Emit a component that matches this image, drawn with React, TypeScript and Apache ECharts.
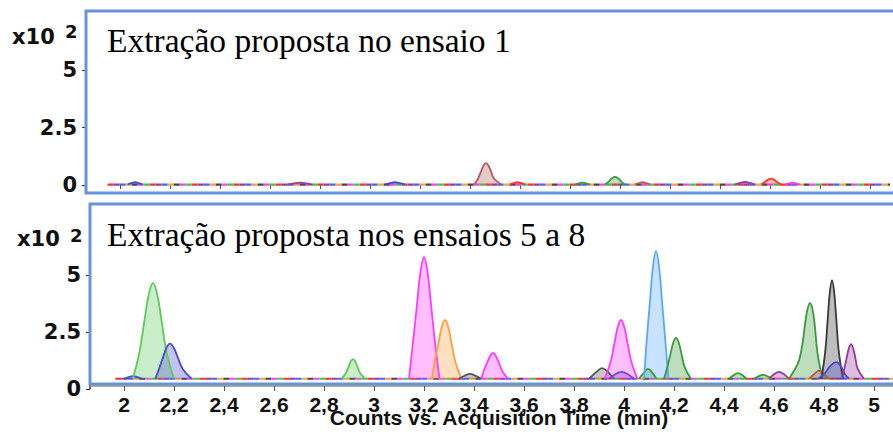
import React, { useEffect, useRef } from 'react';
import * as echarts from 'echarts';

// ---------- data ----------
const xTicks = [2, 2.2, 2.4, 2.6, 2.8, 3, 3.2, 3.4, 3.6, 3.8, 4, 4.2, 4.4, 4.6, 4.8, 5];
const yTicks = [0, 2.5, 5];
const panelTitles = ['Extração proposta no ensaio 1', 'Extração proposta nos ensaios 5 a 8'];
const xAxisTitle = 'Counts vs. Acquisition Time (min)';
const yUnit = 'x10';
const yExp = '2';
const xRange = [1.864, 5.08];
const yMaxTop = 5.74;
const yMaxBottom = 6.32;
const baseTop = 0.02;
const baseBottom = 0.45;
const baselineTopSpan = [[1.95, baseTop], [5.08, baseTop]];
const baselineBottomSpan = [[1.965, baseBottom], [5.08, baseBottom]];

// top panel (ensaio 1) peaks: [time (min), counts x10^2]
const t_brown346 = [[3.416, 0.02], [3.432, 0.28], [3.444, 0.59], [3.454, 0.84], [3.464, 0.95], [3.474, 0.84], [3.484, 0.59], [3.496, 0.28], [3.525, 0.02]];
const t_green398 = [[3.94, 0.02], [3.955, 0.15], [3.967, 0.28], [3.98, 0.35], [3.993, 0.28], [4.005, 0.15], [4.02, 0.02]];
const t_red460 = [[4.565, 0.02], [4.58, 0.13], [4.592, 0.23], [4.604, 0.28], [4.616, 0.23], [4.628, 0.13], [4.645, 0.02]];
const t_blue206 = [[2.03, 0.02], [2.045, 0.08], [2.06, 0.12], [2.075, 0.08], [2.09, 0.02]];
const t_purple272 = [[2.67, 0.02], [2.695, 0.07], [2.72, 0.1], [2.745, 0.07], [2.77, 0.02]];
const t_blue310 = [[3.06, 0.02], [3.08, 0.08], [3.1, 0.12], [3.12, 0.08], [3.14, 0.02]];
const t_red359 = [[3.56, 0.02], [3.575, 0.08], [3.59, 0.12], [3.605, 0.08], [3.62, 0.02]];
const t_green385 = [[3.82, 0.02], [3.835, 0.07], [3.85, 0.1], [3.865, 0.07], [3.88, 0.02]];
const t_brown409 = [[4.06, 0.02], [4.075, 0.08], [4.09, 0.12], [4.105, 0.08], [4.12, 0.02]];
const t_purple450 = [[4.46, 0.02], [4.48, 0.09], [4.5, 0.13], [4.52, 0.09], [4.54, 0.02]];
const t_magenta469 = [[4.66, 0.02], [4.675, 0.07], [4.69, 0.1], [4.705, 0.07], [4.72, 0.02]];

// bottom panel (ensaios 5 a 8) peaks
const b_blue204 = [[2.0, 0.45], [2.018, 0.52], [2.036, 0.56], [2.054, 0.52], [2.07, 0.45]];
const b_green212 = [[2.035, 0.45], [2.062, 1.63], [2.082, 3.02], [2.099, 4.15], [2.116, 4.66], [2.133, 4.15], [2.15, 3.02], [2.17, 1.63], [2.2, 0.45]];
const b_blue218 = [[2.125, 0.45], [2.14, 0.88], [2.156, 1.39], [2.17, 1.81], [2.184, 1.99], [2.199, 1.81], [2.215, 1.39], [2.235, 0.88], [2.27, 0.45]];
const b_green292 = [[2.87, 0.45], [2.887, 0.69], [2.898, 0.97], [2.907, 1.21], [2.916, 1.31], [2.925, 1.21], [2.934, 0.97], [2.945, 0.69], [2.965, 0.45]];
const b_magenta320 = [[3.14, 0.45], [3.155, 1.95], [3.172, 3.71], [3.186, 5.15], [3.2, 5.79], [3.214, 5.15], [3.228, 3.71], [3.245, 1.95], [3.262, 0.45]];
const b_orange328 = [[3.232, 0.45], [3.242, 1.17], [3.258, 2.02], [3.271, 2.72], [3.284, 3.03], [3.297, 2.72], [3.31, 2.02], [3.326, 1.17], [3.35, 0.45]];
const b_grey338 = [[3.34, 0.45], [3.362, 0.58], [3.384, 0.66], [3.406, 0.58], [3.43, 0.45]];
const b_magenta348 = [[3.43, 0.45], [3.438, 0.77], [3.452, 1.14], [3.464, 1.44], [3.476, 1.58], [3.488, 1.44], [3.5, 1.14], [3.514, 0.77], [3.536, 0.45]];
const b_grey391 = [[3.86, 0.45], [3.89, 0.75], [3.912, 0.92], [3.935, 0.75], [3.96, 0.45]];
const b_magenta399 = [[3.922, 0.45], [3.946, 1.17], [3.962, 2.02], [3.975, 2.72], [3.988, 3.03], [4.001, 2.72], [4.014, 2.02], [4.03, 1.17], [4.054, 0.45]];
const b_purple399 = [[3.94, 0.45], [3.965, 0.65], [3.99, 0.75], [4.015, 0.65], [4.04, 0.45]];
const b_green410 = [[4.06, 0.45], [4.078, 0.7], [4.096, 0.88], [4.114, 0.7], [4.13, 0.45]];
const b_lightblue413 = [[4.08, 0.45], [4.09, 2.02], [4.104, 3.87], [4.116, 5.38], [4.128, 6.05], [4.14, 5.38], [4.152, 3.87], [4.166, 2.02], [4.178, 0.45]];
const b_green421 = [[4.16, 0.45], [4.173, 0.95], [4.186, 1.54], [4.197, 2.03], [4.208, 2.24], [4.219, 2.03], [4.23, 1.54], [4.243, 0.95], [4.268, 0.45]];
const b_green446 = [[4.42, 0.45], [4.438, 0.6], [4.456, 0.7], [4.474, 0.6], [4.49, 0.45]];
const b_green456 = [[4.52, 0.45], [4.538, 0.56], [4.556, 0.62], [4.574, 0.56], [4.59, 0.45]];
const b_purple462 = [[4.58, 0.45], [4.6, 0.65], [4.62, 0.75], [4.64, 0.65], [4.66, 0.45]];
const b_green474 = [[4.66, 0.45], [4.68, 0.8], [4.7, 1.25], [4.714, 2.0], [4.726, 3.0], [4.735, 3.55], [4.744, 3.77], [4.753, 3.55], [4.762, 2.9], [4.775, 1.5], [4.795, 0.45]];
const b_brown478 = [[4.74, 0.45], [4.76, 0.65], [4.78, 0.8], [4.8, 0.65], [4.82, 0.45]];
const b_black483 = [[4.79, 0.45], [4.805, 1.66], [4.815, 3.09], [4.8235, 4.26], [4.832, 4.78], [4.8405, 4.26], [4.849, 3.09], [4.859, 1.66], [4.876, 0.45]];
const b_blue485 = [[4.776, 0.45], [4.8, 0.65], [4.825, 1.0], [4.848, 1.18], [4.868, 1.0], [4.884, 0.65], [4.9, 0.45]];
const b_purple491 = [[4.872, 0.45], [4.881, 0.88], [4.891, 1.38], [4.8995, 1.79], [4.908, 1.97], [4.9165, 1.79], [4.925, 1.38], [4.935, 0.88], [4.96, 0.45]];

// ---------- styles ----------
const C = {
  green: '#5ccb5c', darkGreen: '#3a9a3a', blue: '#4a4ad0', lightBlue: '#5aa8ff',
  magenta: '#ff3cff', orange: '#ffa040', grey: '#555555', black: '#3a3a3a',
  purple: '#9a3a9a', brown: '#b45c5c', red: '#ff3030', violet: '#7a40d0',
};
const topPeaks: [number[][], string][] = [
  [t_blue206, C.blue], [t_purple272, C.purple], [t_blue310, C.blue], [t_brown346, C.brown],
  [t_red359, C.red], [t_green385, C.darkGreen], [t_green398, C.darkGreen], [t_brown409, C.brown],
  [t_purple450, C.purple], [t_red460, C.red], [t_magenta469, C.magenta],
];
const bottomPeaks: [number[][], string][] = [
  [b_blue204, C.blue], [b_green212, C.green], [b_blue218, C.blue], [b_green292, C.green],
  [b_magenta320, C.magenta], [b_orange328, C.orange], [b_grey338, C.grey], [b_magenta348, C.magenta],
  [b_grey391, C.grey], [b_magenta399, C.magenta], [b_purple399, C.violet], [b_green410, C.darkGreen],
  [b_lightblue413, C.lightBlue], [b_green421, C.darkGreen], [b_green446, C.darkGreen], [b_green456, C.darkGreen],
  [b_purple462, C.purple], [b_green474, C.darkGreen], [b_brown478, C.brown], [b_black483, C.black],
  [b_blue485, C.blue], [b_purple491, C.purple],
];
const noiseColors = ['#ff3030', '#3cc83c', '#ff40ff', '#444444', '#ffa040', '#3a6aff', '#9a3a9a'];
const FRAME = '#6893da';
const SANS_B = { fontFamily: 'DejaVu Sans', fontWeight: 'bold' as const, color: '#111' };

function peakSeries(data: number[][], color: string, idx: number, base: number) {
  return {
    type: 'line', xAxisIndex: idx, yAxisIndex: idx, data, smooth: 0.4, symbol: 'none',
    lineStyle: { color, width: 1.8 }, areaStyle: { color, opacity: 0.33, origin: base },
    z: 4, silent: true,
  };
}
function noiseSeries(span: number[][], idx: number) {
  const n = noiseColors.length;
  return noiseColors.map((c, i) => ({
    type: 'line', xAxisIndex: idx, yAxisIndex: idx, data: span, symbol: 'none',
    lineStyle: { color: c, width: 2.2, type: [6, 6 * (n - 1)], dashOffset: i * 6 },
    z: 3, silent: true,
  }));
}

export default function App() {
  const ref = useRef<HTMLDivElement>(null);
  useEffect(() => {
    if (!ref.current) return;
    const chart = echarts.init(ref.current, undefined, { renderer: 'svg' });
    const fmtX = (v: number) => String(Math.round(v * 10) / 10).replace('.', ',');
    const yAx = (idx: number, max: number) => ({
      type: 'value', gridIndex: idx, min: 0, max,
      axisLine: { show: true, lineStyle: { color: '#333', width: 1.5 } },
      axisTick: { show: true, customValues: yTicks, length: 4, lineStyle: { color: '#333' } },
      axisLabel: { customValues: yTicks, formatter: (v: number) => String(v), fontSize: 21, margin: 9, ...SANS_B },
      splitLine: { show: false },
    });
    const titleStyle = { fontFamily: 'Liberation Serif', fontSize: 33.5, fontWeight: 'normal', color: '#000' };
    chart.setOption({
      animation: false,
      backgroundColor: '#fff',
      title: [
        { text: panelTitles[0], left: 107, top: 23, padding: 0, textStyle: titleStyle },
        { text: panelTitles[1], left: 107, top: 217, padding: 0, textStyle: titleStyle },
      ],
      grid: [
        { left: 86, top: 53, width: 804, height: 132, outerBoundsMode: 'none', containLabel: false },
        { left: 90, top: 245, width: 804, height: 144, outerBoundsMode: 'none', containLabel: false },
      ],
      xAxis: [
        { type: 'value', gridIndex: 0, min: xRange[0], max: xRange[1], offset: 8,
          axisLine: { show: false },
          axisTick: { show: true, customValues: xTicks, length: 4, lineStyle: { color: '#555' } },
          axisLabel: { show: false }, splitLine: { show: false } },
        { type: 'value', gridIndex: 1, min: xRange[0], max: xRange[1], offset: -3,
          axisLine: { show: true, lineStyle: { color: '#8a8a8a', width: 1.5 } },
          axisTick: { show: true, customValues: xTicks, length: 5, lineStyle: { color: '#555' } },
          axisLabel: { customValues: xTicks, formatter: fmtX, fontSize: 21, margin: 8,
            fontFamily: 'Liberation Sans', fontWeight: 'bold', color: '#111' },
          splitLine: { show: false },
          name: xAxisTitle, nameLocation: 'middle', nameGap: 21, nameMoveOverlap: false,
          nameTextStyle: { fontFamily: 'Liberation Sans', fontWeight: 'bold', fontSize: 21, color: '#111', padding: [0, 0, 0, 14] } },
      ],
      yAxis: [yAx(0, yMaxTop), yAx(1, yMaxBottom)],
      graphic: [
        { type: 'rect', shape: { x: 86, y: 11, width: 830, height: 182 }, style: { fill: 'none', stroke: FRAME, lineWidth: 3 }, z: 1 },
        { type: 'rect', shape: { x: 90, y: 204, width: 830, height: 180 }, style: { fill: 'none', stroke: FRAME, lineWidth: 3 }, z: 1 },
        { type: 'text', x: 12, y: 37, style: { text: yUnit, fontSize: 21, verticalAlign: 'middle', fill: '#111', fontFamily: 'DejaVu Sans', fontWeight: 'bold' } },
        { type: 'text', x: 65, y: 31, style: { text: yExp, fontSize: 18, verticalAlign: 'middle', fill: '#111', fontFamily: 'DejaVu Sans', fontWeight: 'bold' } },
        { type: 'text', x: 17, y: 239, style: { text: yUnit, fontSize: 21, verticalAlign: 'middle', fill: '#111', fontFamily: 'DejaVu Sans', fontWeight: 'bold' } },
        { type: 'text', x: 70, y: 235, style: { text: yExp, fontSize: 18, verticalAlign: 'middle', fill: '#111', fontFamily: 'DejaVu Sans', fontWeight: 'bold' } },
      ],
      series: [
        ...noiseSeries(baselineTopSpan, 0),
        ...noiseSeries(baselineBottomSpan, 1),
        ...topPeaks.map(([d, c]) => peakSeries(d, c, 0, baseTop)),
        ...bottomPeaks.map(([d, c]) => peakSeries(d, c, 1, baseBottom)),
      ],
    });
    return () => chart.dispose();
  }, []);
  return <div ref={ref} style={{ position: 'fixed', left: 0, top: 0, width: 893, height: 432, background: '#fff' }} />;
}
